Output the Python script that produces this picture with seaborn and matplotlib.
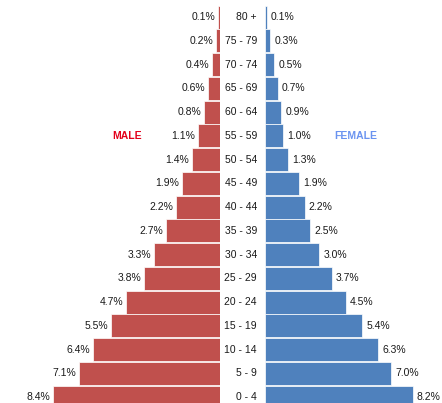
import matplotlib.pyplot as plt
import matplotlib.transforms as mtransforms
import pandas as pd
import seaborn as sns

# ---- data (percent of population) ----
age_groups = ["80 +", "75 - 79", "70 - 74", "65 - 69", "60 - 64", "55 - 59",
              "50 - 54", "45 - 49", "40 - 44", "35 - 39", "30 - 34", "25 - 29",
              "20 - 24", "15 - 19", "10 - 14", "5 - 9", "0 - 4"]
male = [0.1, 0.2, 0.4, 0.6, 0.8, 1.1, 1.4, 1.9, 2.2, 2.7, 3.3, 3.8, 4.7, 5.5, 6.4, 7.1, 8.4]
female = [0.1, 0.3, 0.5, 0.7, 0.9, 1.0, 1.3, 1.9, 2.2, 2.5, 3.0, 3.7, 4.5, 5.4, 6.3, 7.0, 8.2]

df = pd.DataFrame({"age": age_groups, "male": male, "female": female})

sns.set_style("white")
plt.rcParams["font.family"] = ["Liberation Sans", "DejaVu Sans"]

W, H = 442, 403
fig = plt.figure(figsize=(W / 100, H / 100), dpi=100)
ax_m = fig.add_axes([0, 0, 220 / W, 1])
ax_f = fig.add_axes([265 / W, 0, (W - 265) / W, 1])

red = "#C0504D"
blue = "#4F81BD"

sns.barplot(data=df, y="age", x="male", ax=ax_m, color=red, orient="h",
            width=0.97, edgecolor="white", linewidth=0.5, saturation=1)
sns.barplot(data=df, y="age", x="female", ax=ax_f, color=blue, orient="h",
            width=0.97, edgecolor="white", linewidth=0.5, saturation=1)

ylim = (16.25, -0.72)
ax_m.set_xlim(220 / 19.9, 0)
ax_f.set_xlim(0, (W - 265) / 18.0)
for ax in (ax_m, ax_f):
    ax.set_ylim(*ylim)
    ax.set_xlabel("")
    ax.set_ylabel("")
    ax.set_xticks([])
    ax.set_yticks([])
    for s in ax.spines.values():
        s.set_visible(False)
    ax.patch.set_alpha(0)

# value labels
for i, v in enumerate(male):
    ax_m.annotate(f"{v:.1f}%", (v, i), xytext=(-2, 0), textcoords="offset points",
                  ha="right", va="center", fontsize=7.5, color="#1a1a1a")
for i, v in enumerate(female):
    ax_f.annotate(f"{v:.1f}%", (v, i), xytext=(3, 0), textcoords="offset points",
                  ha="left", va="center", fontsize=7.5, color="#1a1a1a")

# age group labels in the gap
trans = mtransforms.blended_transform_factory(fig.transFigure, ax_m.transData)
for i, lab in enumerate(age_groups):
    ax_m.text(257 / W, i, lab, transform=trans, ha="right", va="center",
              fontsize=7.5, color="#1a1a1a", clip_on=False)

ax_m.text(127 / W, 5, "MALE", transform=trans, ha="center", va="center",
          fontsize=7.5, color="#E3001B", fontweight="bold")
ax_m.text(356 / W, 5, "FEMALE", transform=trans, ha="center", va="center",
          fontsize=7.5, color="#6A93F0", fontweight="bold", clip_on=False)

fig.savefig("out.png", dpi=100)
